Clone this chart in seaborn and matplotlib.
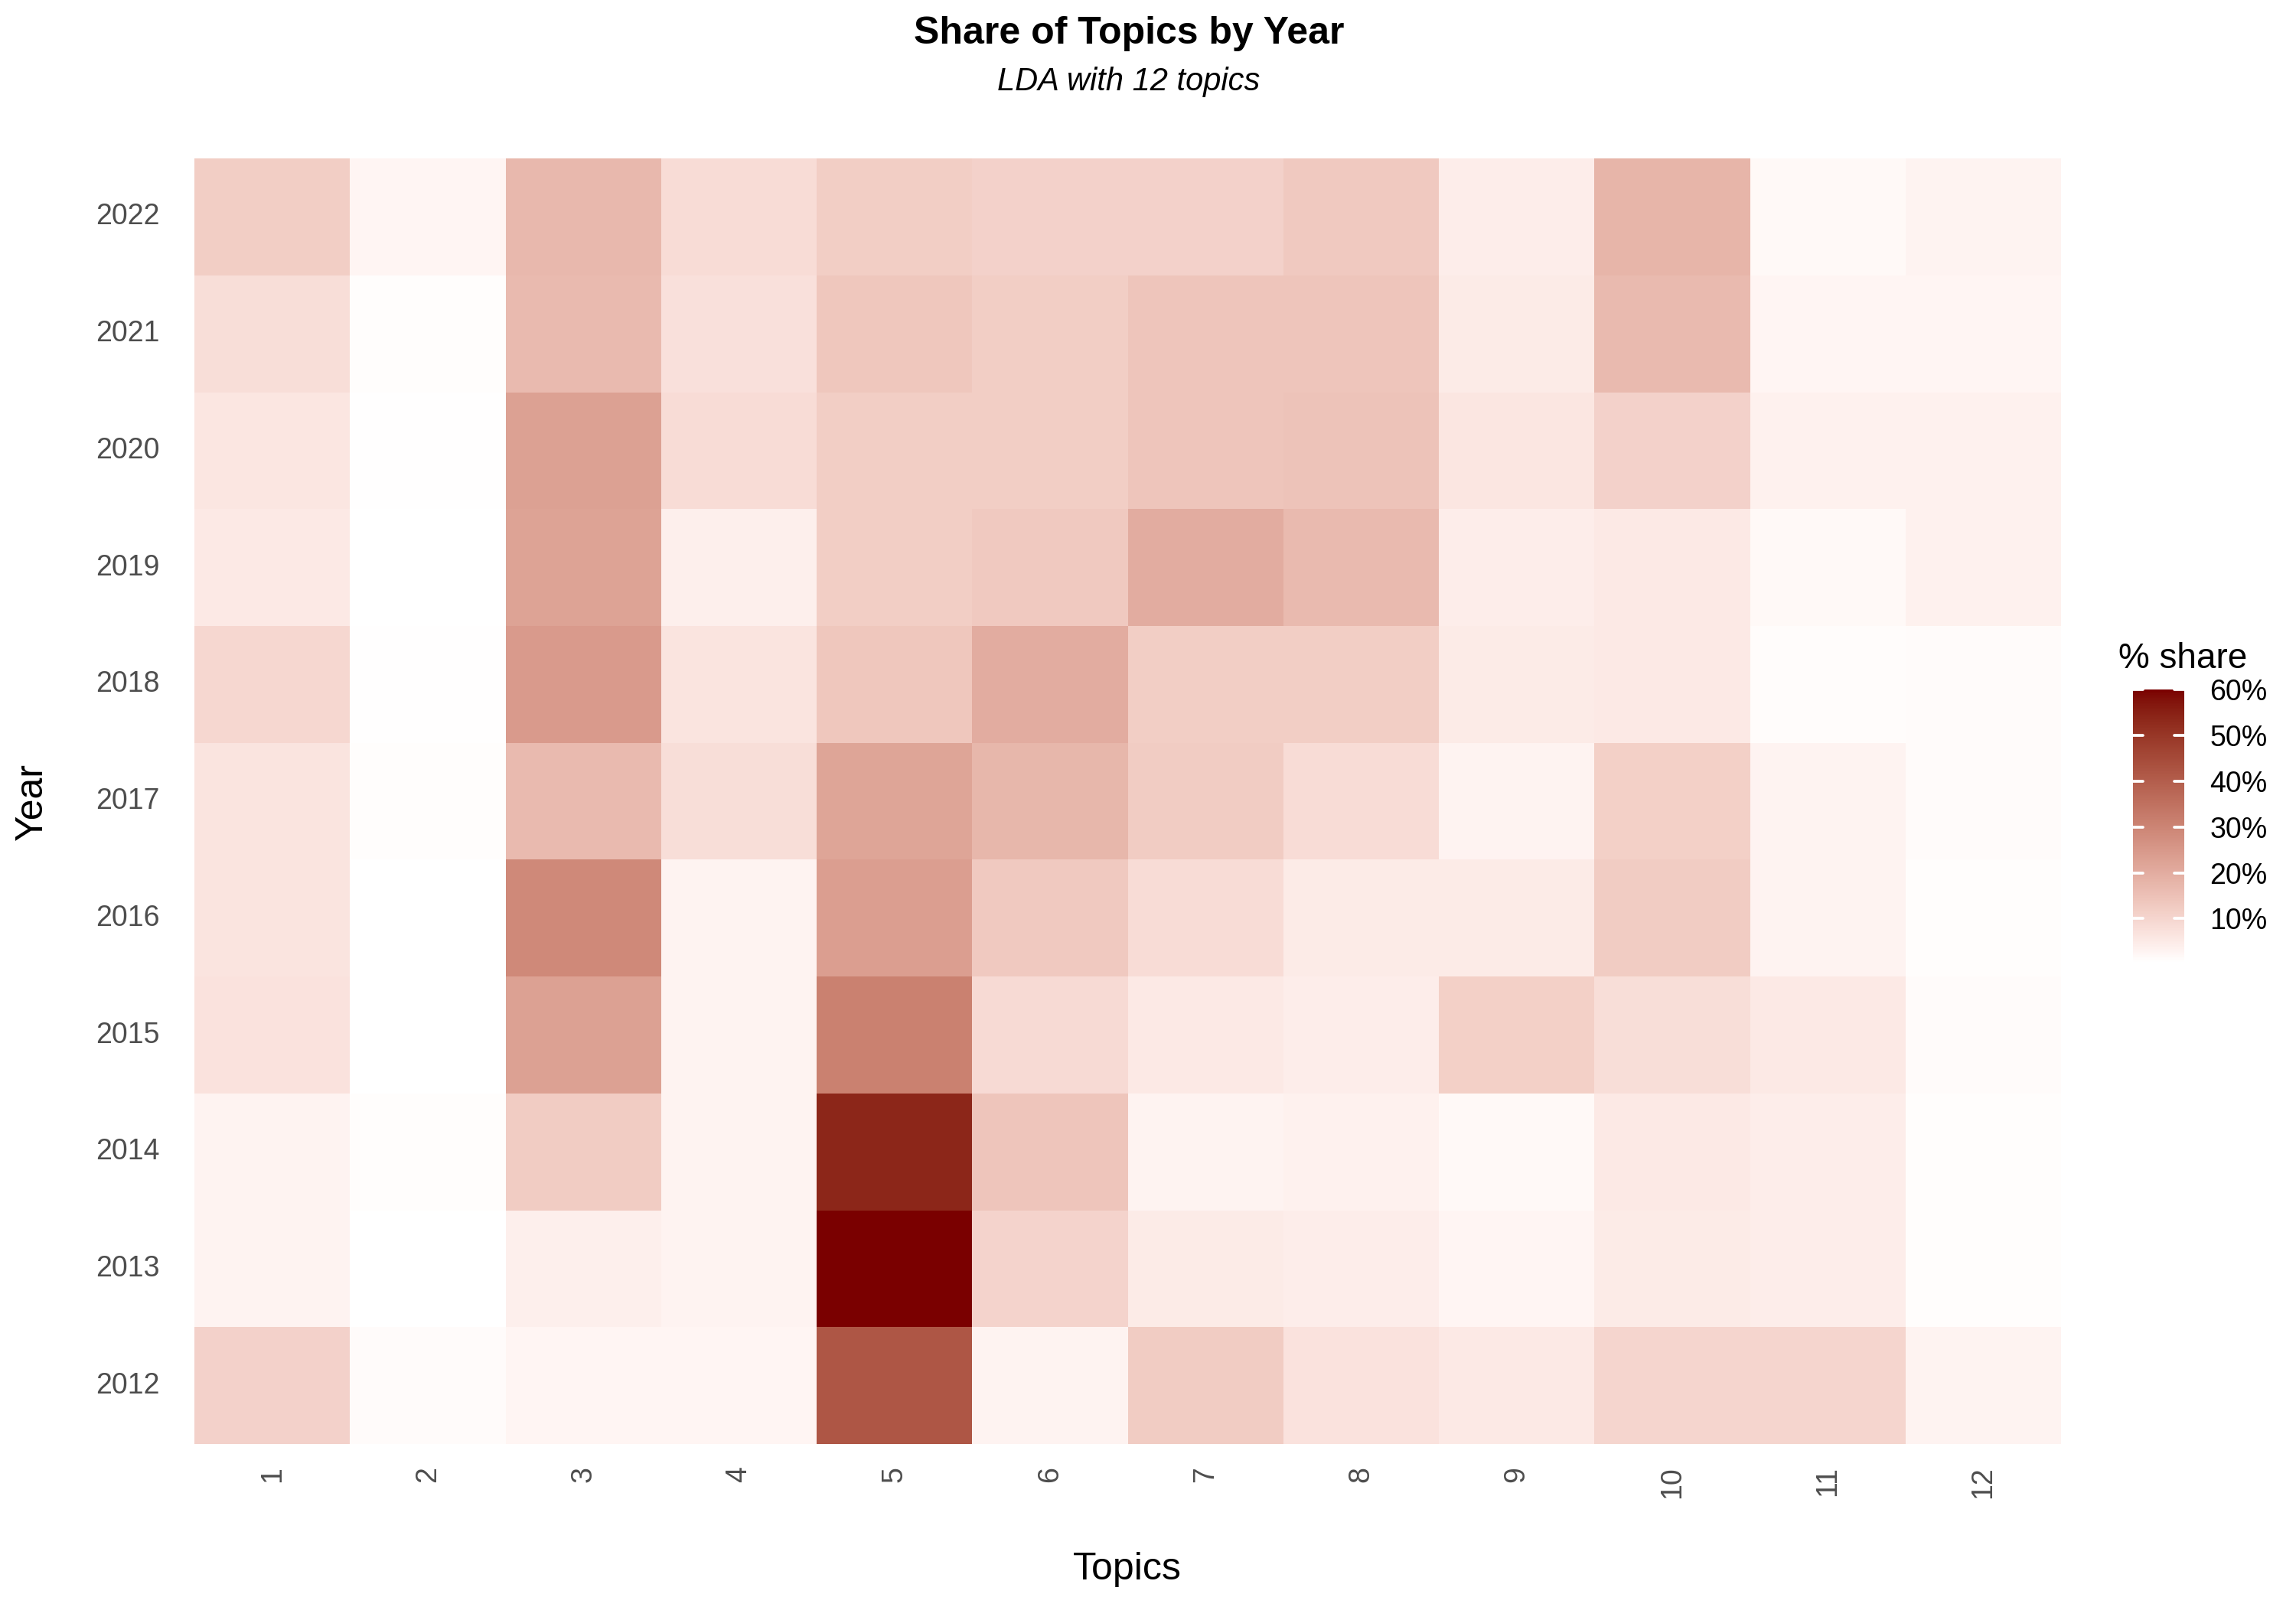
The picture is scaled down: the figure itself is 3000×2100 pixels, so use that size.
import numpy as np
import pandas as pd
import matplotlib
matplotlib.use("Agg")
import matplotlib.pyplot as plt
import seaborn as sns
from matplotlib.colors import ListedColormap, to_rgb


# Data: share of each topic (%) per year, rows top to bottom
years = [2022, 2021, 2020, 2019, 2018, 2017, 2016, 2015, 2014, 2013, 2012]
topics = [1, 2, 3, 4, 5, 6, 7, 8, 9, 10, 11, 12]
shares = [
    [12.0, 2.5, 17.0, 8.5, 12.0, 11.0, 11.0, 13.0, 4.5, 18.0, 2.0, 3.0],   # 2022
    [8.0, 1.0, 16.5, 7.5, 13.5, 12.0, 14.0, 14.0, 5.0, 16.5, 2.5, 2.5],    # 2021
    [6.0, 0.8, 23.0, 8.5, 12.0, 12.0, 14.0, 14.5, 6.0, 11.0, 3.5, 3.5],    # 2020
    [5.5, 0.6, 22.5, 4.0, 12.0, 13.0, 20.0, 16.5, 4.5, 5.5, 2.0, 3.5],     # 2019
    [9.5, 0.8, 24.5, 6.5, 13.5, 20.0, 12.0, 12.0, 5.0, 5.5, 1.2, 1.5],     # 2018
    [6.5, 1.0, 16.5, 8.0, 22.0, 17.5, 12.5, 8.5, 3.0, 11.5, 3.0, 1.5],     # 2017
    [6.5, 0.6, 29.0, 3.0, 23.5, 13.0, 8.5, 5.0, 5.0, 12.5, 3.0, 1.0],      # 2016
    [7.0, 0.4, 23.0, 3.0, 31.0, 9.0, 5.5, 4.5, 11.5, 8.0, 5.5, 1.5],       # 2015
    [3.0, 1.0, 12.5, 3.0, 54.0, 14.0, 3.0, 3.5, 2.0, 5.5, 4.5, 1.0],       # 2014
    [3.0, 0.4, 4.0, 3.0, 60.1, 10.5, 5.0, 4.5, 2.5, 5.0, 4.5, 1.0],        # 2013
    [11.0, 1.5, 2.5, 2.5, 42.0, 3.0, 12.5, 7.0, 5.5, 10.0, 10.0, 3.0],     # 2012
]
cbar_ticks = [10, 20, 30, 40, 50, 60]

LOW_COLOR = "#ffffff"
HIGH_COLOR = "#7a0000"


# Colour ramp in CIELAB (white -> dark red), a touch more chroma in the middle
M = np.array([[0.4124, 0.3576, 0.1805],
              [0.2126, 0.7152, 0.0722],
              [0.0193, 0.1192, 0.9505]])
WHITE = np.array([0.95047, 1.0, 1.08883])


def srgb_to_lin(c):
    c = np.asarray(c)
    return np.where(c <= 0.04045, c / 12.92, ((c + 0.055) / 1.055) ** 2.4)


def lin_to_srgb(c):
    c = np.clip(c, 0, None)
    return np.where(c <= 0.0031308, 12.92 * c, 1.055 * np.power(c, 1 / 2.4) - 0.055)


def f(t):
    return np.where(t > 0.008856, np.cbrt(t), 7.787 * t + 16 / 116)


def finv(t):
    return np.where(t > 0.206893, t ** 3, (t - 16 / 116) / 7.787)


def rgb_to_lab(rgb):
    xyz = M @ srgb_to_lin(rgb) / WHITE
    fx, fy, fz = f(xyz)
    return np.array([116 * fy - 16, 500 * (fx - fy), 200 * (fy - fz)])


def lab_to_rgb(lab):
    L, a, b = lab.T
    fy = (L + 16) / 116
    fx = fy + a / 500
    fz = fy - b / 200
    xyz = np.stack([finv(fx), finv(fy), finv(fz)], axis=1) * WHITE
    lin = xyz @ np.linalg.inv(M).T
    return np.clip(lin_to_srgb(lin), 0, 1)


lab_lo = rgb_to_lab(to_rgb(LOW_COLOR))
lab_hi = rgb_to_lab(to_rgb(HIGH_COLOR))
t = np.linspace(0, 1, 256)
lab = np.column_stack([
    lab_lo[0] + t * (lab_hi[0] - lab_lo[0]),
    lab_lo[1] + t ** 0.85 * (lab_hi[1] - lab_lo[1]),
    lab_lo[2] + t ** 0.85 * (lab_hi[2] - lab_lo[2]),
])
cmap = ListedColormap(lab_to_rgb(lab))


df = pd.DataFrame(shares, index=years, columns=topics)

sns.set_style("white")
plt.rcParams["font.family"] = ["Liberation Sans", "DejaVu Sans"]
plt.rcParams["text.color"] = "black"

fig = plt.figure(figsize=(10, 7), dpi=300)
ax = fig.add_axes([0.0847, 0.1014, 0.8130, 0.8000])
cax = fig.add_axes([0.9290, 0.4010, 0.0223, 0.1700])

sns.heatmap(
    df,
    ax=ax,
    cmap=cmap,
    vmin=df.values.min(),
    vmax=df.values.max(),
    cbar_ax=cax,
    linewidths=0,
)

ax.tick_params(axis="both", length=0, labelsize=9, labelcolor="#4d4d4d")
ax.tick_params(axis="x", pad=7)
ax.tick_params(axis="y", pad=11)
ax.set_xticklabels(topics, rotation=90)
ax.set_yticklabels(years, rotation=0)
ax.set_xlabel("")
ax.set_ylabel("")
for s in ax.spines.values():
    s.set_visible(False)

fig.text(0.014, 0.5014, "Year", rotation=90, ha="center", va="center", fontsize=12)
fig.text(0.491, 0.0233, "Topics", ha="center", va="center", fontsize=12)

fig.text(0.4917, 0.979, "Share of Topics by Year", ha="center", va="center",
         fontsize=12, fontweight="bold")
fig.text(0.4917, 0.949, "LDA with 12 topics", ha="center", va="center",
         fontsize=10, style="italic")

# Colour bar with white inner ticks on both sides
cbar = ax.collections[0].colorbar
cbar.outline.set_visible(False)
cbar.set_ticks(cbar_ticks)
cbar.set_ticklabels([f"{v}%" for v in cbar_ticks])
cax.tick_params(axis="y", length=0, labelsize=9, pad=8, labelcolor="black")
for v in cbar_ticks:
    cax.axhline(v, 0, 0.2, color="white", lw=0.9)
    cax.axhline(v, 0.8, 1, color="white", lw=0.9)
fig.text(0.9227, 0.590, "% share", ha="left", va="center", fontsize=11)

fig.savefig("out.png", dpi=300, facecolor="white")
plt.close(fig)
